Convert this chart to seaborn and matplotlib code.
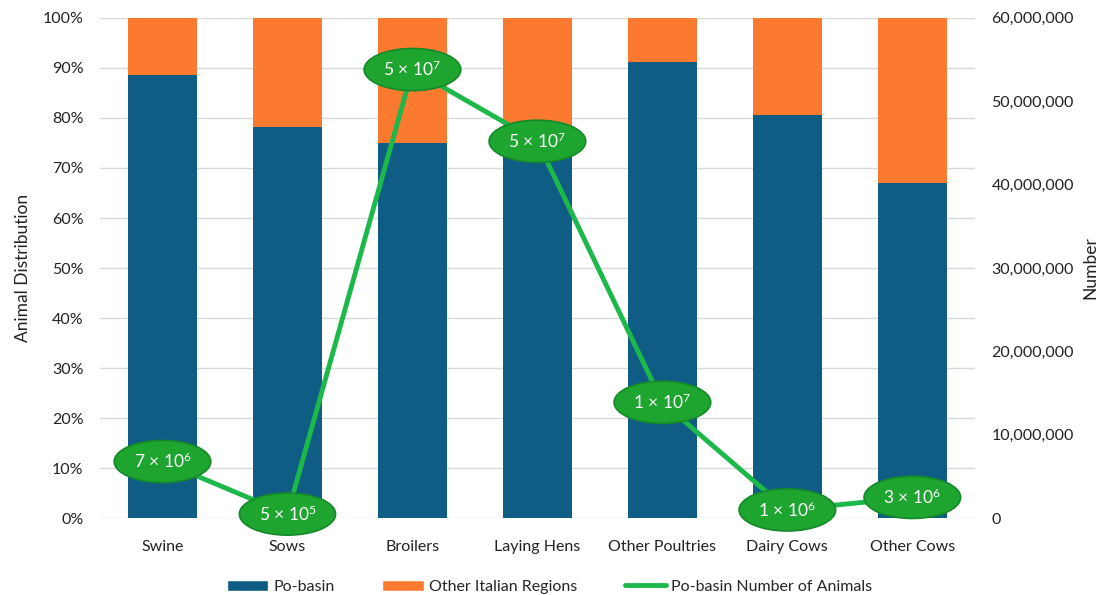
import matplotlib
matplotlib.use("Agg")
import matplotlib.pyplot as plt
import matplotlib.ticker as mticker
from matplotlib.patches import Patch
from matplotlib.lines import Line2D
import seaborn as sns
import numpy as np

categories = ["Swine", "Sows", "Broilers", "Laying Hens", "Other Poultries", "Dairy Cows", "Other Cows"]
po_basin_pct = [88.5, 78.1, 75.0, 74.0, 91.2, 80.6, 66.9]
other_regions_pct = [100 - v for v in po_basin_pct]
po_basin_number = [6.8e6, 0.5e6, 53.8e6, 45.2e6, 13.9e6, 1.0e6, 2.5e6]
number_labels = ["7 × 10$^{6}$", "5 × 10$^{5}$", "5 × 10$^{7}$", "5 × 10$^{7}$",
                 "1 × 10$^{7}$", "1 × 10$^{6}$", "3 × 10$^{6}$"]

sns.set_theme(style="white")
plt.rcParams["font.family"] = ["Lato", "DejaVu Sans"]
plt.rcParams["mathtext.default"] = "regular"

BLUE = "#0f5d84"
ORANGE = "#fb7a30"
GREEN = "#1cb84a"

fig = plt.figure(figsize=(10.99, 5.95), dpi=100)
ax = fig.add_axes([0.091, 0.129, 0.796, 0.841])

totals = [p + o for p, o in zip(po_basin_pct, other_regions_pct)]
sns.barplot(x=categories, y=totals, color=ORANGE, width=0.55, ax=ax, saturation=1, zorder=2, linewidth=0)
sns.barplot(x=categories, y=po_basin_pct, color=BLUE, width=0.55, ax=ax, saturation=1, zorder=3, linewidth=0)

ax.set_ylim(0, 100)
ax.set_xlim(-0.5, len(categories) - 0.5)
ax.yaxis.set_major_locator(mticker.MultipleLocator(10))
ax.yaxis.set_major_formatter(mticker.FuncFormatter(lambda v, p: f"{int(round(v))}%"))
ax.grid(axis="y", color="#d9d9d9", linewidth=1, zorder=0)
ax.set_axisbelow(True)
for s in ax.spines.values():
    s.set_visible(False)
ax.set_ylabel("Animal Distribution", fontsize=12.5, color="#222222", labelpad=8)
ax.set_xlabel("")
ax.tick_params(axis="both", labelsize=11.5, colors="#222222", length=0)
ax.tick_params(axis="x", pad=16)
ax.tick_params(axis="y", pad=12)

ax2 = ax.twinx()
sns.lineplot(x=categories, y=po_basin_number, ax=ax2, color=GREEN, linewidth=3.5, sort=False, zorder=4)
ax2.set_ylim(0, 60e6)
ax2.yaxis.set_major_locator(mticker.MultipleLocator(10e6))
ax2.yaxis.set_major_formatter(mticker.FuncFormatter(lambda v, p: f"{int(v):,}"))
for s in ax2.spines.values():
    s.set_visible(False)
ax2.set_ylabel("Number", fontsize=12.5, color="#222222", labelpad=6)
ax2.tick_params(axis="y", labelsize=11.5, colors="#222222", length=0, pad=12)

for i, (v, lab) in enumerate(zip(po_basin_number, number_labels)):
    ax2.text(i, v, lab, ha="center", va="center", fontsize=12.5, color="white", zorder=6,
             bbox=dict(boxstyle="ellipse,pad=0.3", fc="#1ea52f", ec="#15882a", lw=1.2))

handles = [Patch(facecolor=BLUE, label="Po-basin"),
           Patch(facecolor=ORANGE, label="Other Italian Regions"),
           Line2D([0], [0], color=GREEN, lw=3.5, label="Po-basin Number of Animals")]
fig.legend(handles=handles, loc="lower center", bbox_to_anchor=(0.5, -0.022), ncol=3, frameon=False,
           fontsize=11.5, handlelength=2.6, columnspacing=3, handletextpad=0.3)

fig.savefig("out.png", dpi=100)
